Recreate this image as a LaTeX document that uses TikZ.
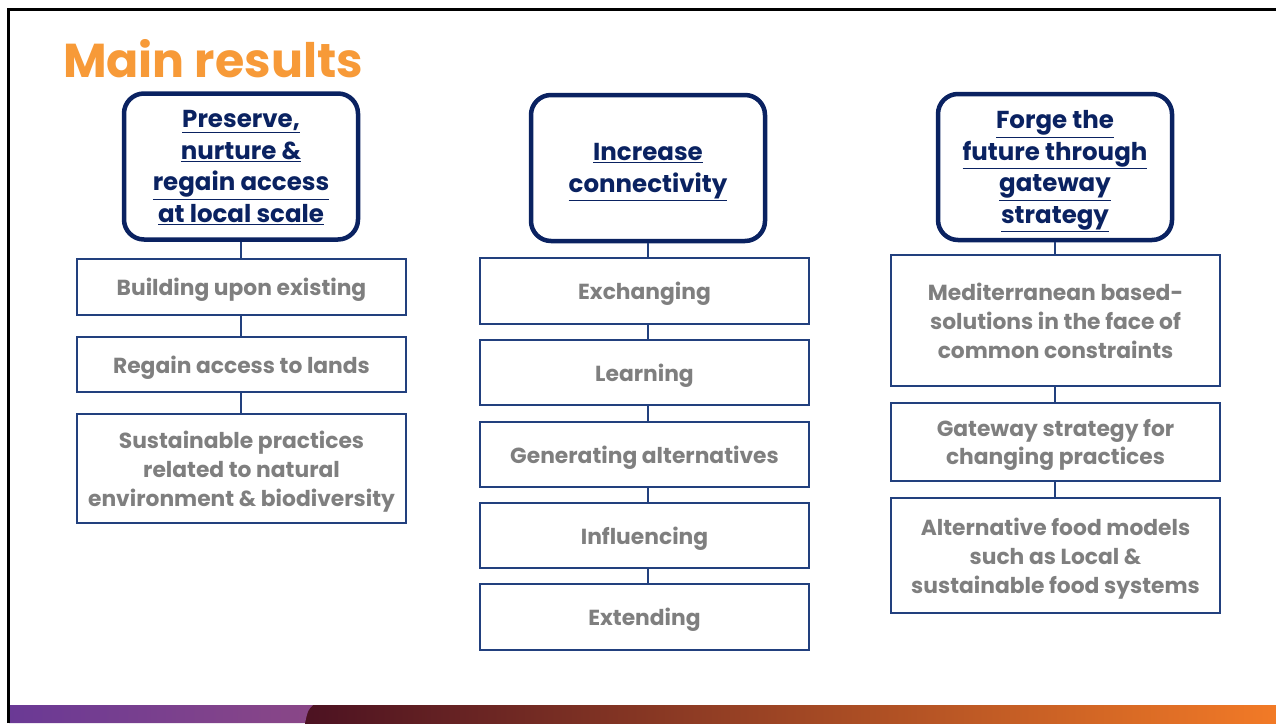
\documentclass[tikz,border=0pt]{standalone}
\usepackage{fontspec}
\setmainfont{Poppins}
\definecolor{navy}{HTML}{0A2261}
\definecolor{boxline}{HTML}{22407E}
\definecolor{itemgray}{HTML}{7F7F7F}
\definecolor{titleorange}{HTML}{F79A38}
\definecolor{barpurpleA}{HTML}{6A3995}
\definecolor{barpurpleB}{HTML}{8A4787}
\definecolor{bardark}{HTML}{4C1222}
\definecolor{barorange}{HTML}{F27A26}
\tikzset{
  header/.style={draw=navy, line width=4.5pt, rounded corners=20pt, fill=white,
    minimum width=234pt, minimum height=146pt, align=center, inner sep=0pt, text depth=0pt,
    font=\fontsize{24.5}{31.5}\selectfont\bfseries, text=navy},
  item/.style={draw=boxline, line width=1.3pt, minimum width=329pt, align=center,
    inner sep=0pt, text depth=0pt, font=\fontsize{21.8}{28.8}\selectfont\bfseries, text=itemgray},
  link/.style={draw=boxline, line width=1.3pt}
}
\begin{document}
\begin{tikzpicture}[x=1pt,y=-1pt]
  \useasboundingbox (0,0) rectangle (1276,723);

  \shade[left color=bardark, right color=barorange] (305,705) rectangle (1276,723);
  \shade[left color=barpurpleA, right color=barpurpleB] (9,705) -- (313,705) .. controls (308,710) .. (305,723) -- (9,723) -- cycle;
  \draw[line width=3pt] (8,723) -- (8,9) -- (1276,9);

  \node[anchor=base west, text=titleorange, font=\fontsize{47.5}{50}\selectfont\bfseries] (title) at (59.5,77) {Main results};

  \node[header] (hdrA) at (241,166.5) {\underline{Preserve,}\\\underline{nurture \&}\\\underline{regain access}\\\underline{at local scale}};
  \node[item, minimum height=56pt] (a1) at (241.5,287) {Building upon existing};
  \node[item, minimum height=55pt] (a2) at (241.5,364.5) {Regain access to lands};
  \node[item, minimum height=109pt] (a3) at (241.5,468.5) {Sustainable practices\\related to natural\\environment \& biodiversity};

  \node[header] (hdrB) at (648,168) {\underline{Increase}\\\underline{connectivity}};
  \node[item, minimum height=66pt] (b1) at (644.5,291) {Exchanging};
  \node[item, minimum height=65pt] (b2) at (644.5,372.5) {Learning};
  \node[item, minimum height=65pt] (b3) at (644.5,454.5) {Generating alternatives};
  \node[item, minimum height=65pt] (b4) at (644.5,535.5) {Influencing};
  \node[item, minimum height=66pt] (b5) at (644.5,617) {Extending};

  \node[header] (hdrC) at (1055,167) {\underline{Forge the}\\\underline{future through}\\\underline{gateway}\\\underline{strategy}};
  \node[item, minimum height=131pt] (c1) at (1055.5,320.5) {Mediterranean based-\\solutions in the face of\\common constraints};
  \node[item, minimum height=78pt] (c2) at (1055.5,442) {Gateway strategy for\\changing practices};
  \node[item, minimum height=115pt] (c3) at (1055.5,555.5) {Alternative food models\\such as Local \&\\sustainable food systems};

  \draw[link] (hdrA.south) -- (hdrA.south |- a1.north);
  \draw[link] (hdrA.south |- a1.south) -- (hdrA.south |- a2.north);
  \draw[link] (hdrA.south |- a2.south) -- (hdrA.south |- a3.north);

  \draw[link] (hdrB.south) -- (hdrB.south |- b1.north);
  \draw[link] (hdrB.south |- b1.south) -- (hdrB.south |- b2.north);
  \draw[link] (hdrB.south |- b2.south) -- (hdrB.south |- b3.north);
  \draw[link] (hdrB.south |- b3.south) -- (hdrB.south |- b4.north);
  \draw[link] (hdrB.south |- b4.south) -- (hdrB.south |- b5.north);

  \draw[link] (hdrC.south) -- (hdrC.south |- c1.north);
  \draw[link] (hdrC.south |- c1.south) -- (hdrC.south |- c2.north);
  \draw[link] (hdrC.south |- c2.south) -- (hdrC.south |- c3.north);
\end{tikzpicture}
\end{document}
